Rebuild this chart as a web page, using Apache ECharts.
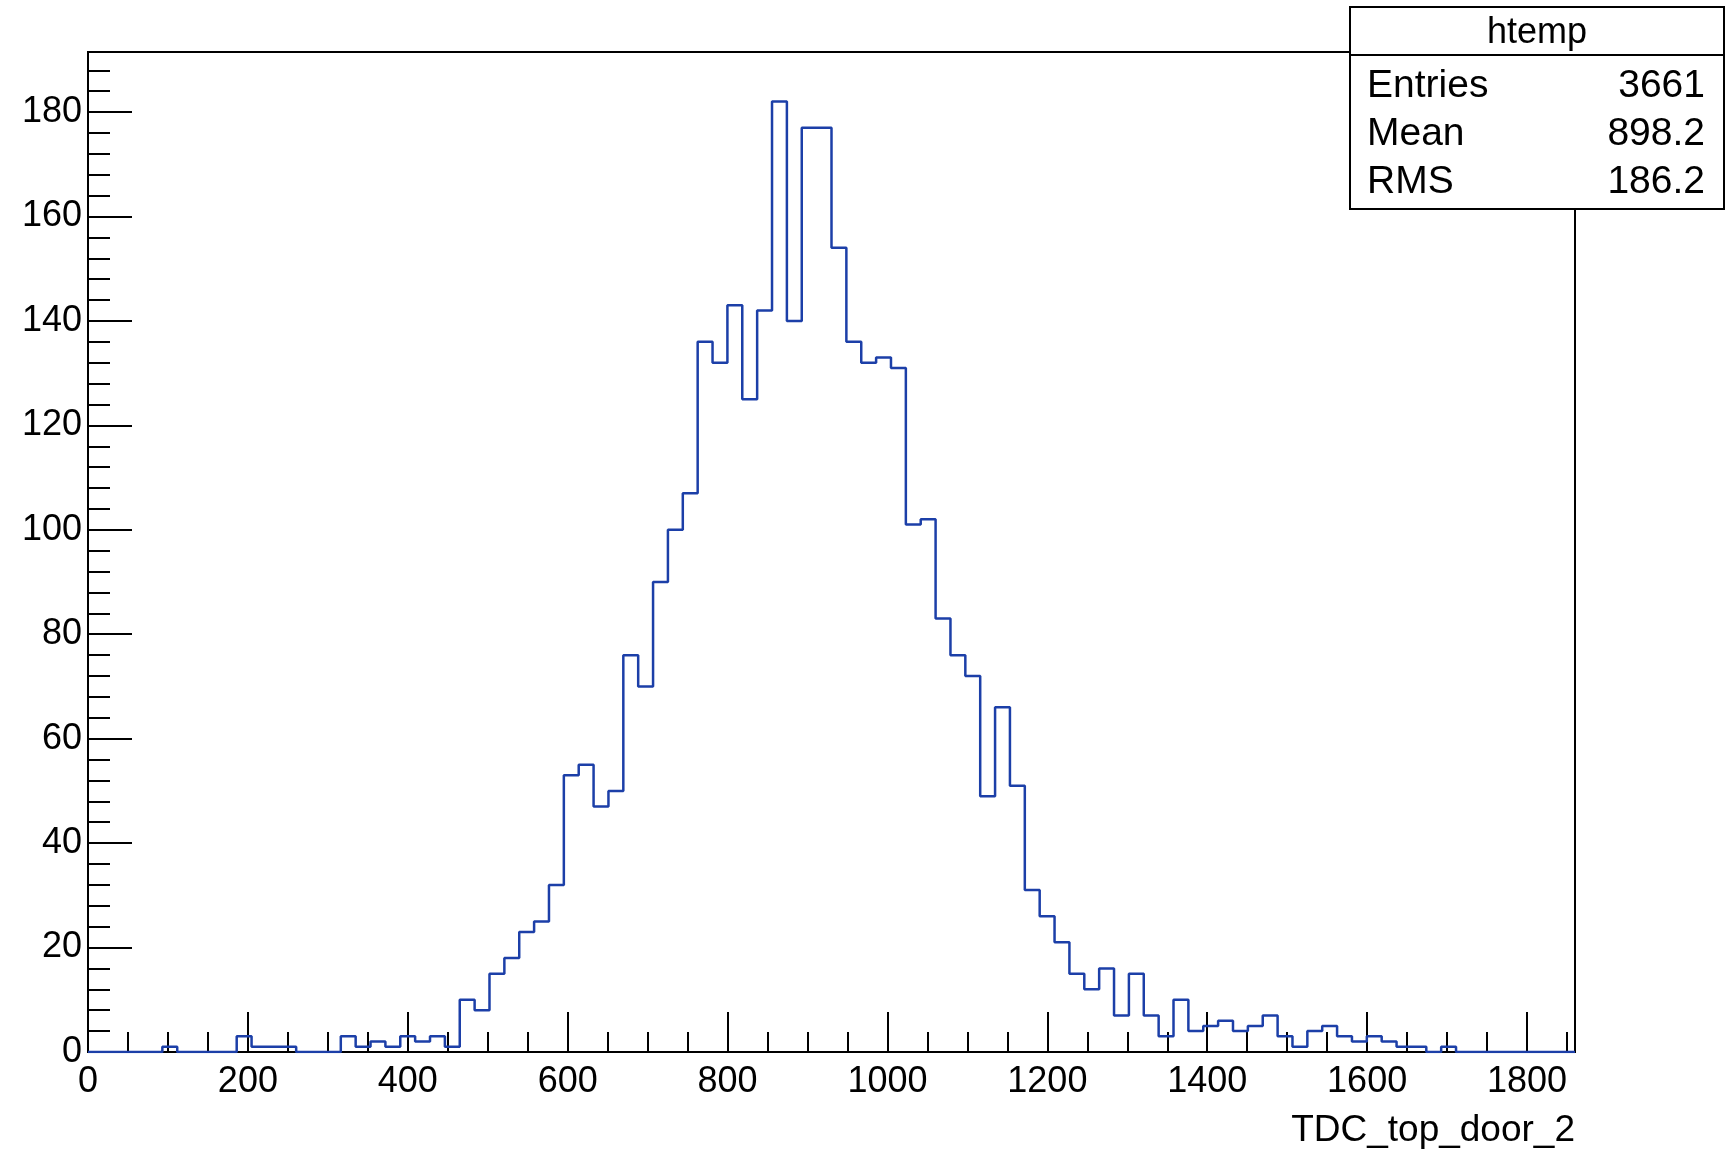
<!DOCTYPE html>
<html><head><meta charset="utf-8">
<script src="https://cdn.jsdelivr.net/npm/echarts@6/dist/echarts.min.js"></script>
<style>html,body{margin:0;padding:0;background:#fff}#c{width:1733px;height:1153px}</style>
</head><body><div id="c"></div>
<script>
const binWidth = 18.6;
const counts = [0,0,0,0,0,1,0,0,0,0, 3,1,1,1,0,0,0,3,1,2, 1,3,2,3,1,10,8,15,18,23, 25,32,53,55,47,50,76,70,90,100, 107,136,132,143,125,142,182,140,177,177, 154,136,132,133,131,101,102,83,76,72, 49,66,51,31,26,21,15,12,16,7, 15,7,3,10,4,5,6,4,5,7, 3,1,4,5,3,2,3,2,1,1, 0,1,0,0,0,0,0,0,0,0];
const statsLabels = ['Entries','Mean','RMS'];
const statsValues = ['3661','898.2','186.2'];
const xTitle = 'TDC_top_door_2';
const histName = 'htemp';

const pts = counts.map((v,i)=>[+(i*binWidth).toFixed(2), v]);
pts.push([+(counts.length*binWidth).toFixed(2), 0]);

const F = '"Liberation Sans", Arial, sans-serif';
const chart = echarts.init(document.getElementById('c'));
const L=88, R=1575, T=52, B=1052;
const g = [
  {type:'rect',shape:{x:1350,y:7,width:374,height:202},style:{fill:'#fff',stroke:'#000',lineWidth:2},z:100},
  {type:'line',shape:{x1:1350,y1:55,x2:1724,y2:55},style:{stroke:'#000',lineWidth:2},z:101},
  {type:'text',x:1537,y:33,style:{text:histName,font:'36px '+F,fill:'#000',textAlign:'center',textVerticalAlign:'middle'},z:102},
  {type:'text',x:R,y:1131,style:{text:xTitle,font:'37px '+F,fill:'#000',textAlign:'right',textVerticalAlign:'middle'},z:102}
];
statsLabels.forEach((s,i)=>{
  const y=86+i*48;
  g.push({type:'text',x:1367,y:y,style:{text:s,font:'39px '+F,fill:'#000',textAlign:'left',textVerticalAlign:'middle'},z:102});
  g.push({type:'text',x:1705,y:y,style:{text:statsValues[i],font:'39px '+F,fill:'#000',textAlign:'right',textVerticalAlign:'middle'},z:102});
});
chart.setOption({
  animation:false,
  grid:{left:L,right:1733-R,top:T,bottom:1153-B,show:true,borderColor:'#000',borderWidth:2},
  xAxis:{type:'value',min:0,max:1860,interval:200,
    axisLine:{lineStyle:{color:'#000',width:2}},
    axisTick:{inside:true,length:40,lineStyle:{color:'#000',width:2}},
    minorTick:{show:true,splitNumber:4,length:20,lineStyle:{color:'#000',width:2}},
    splitLine:{show:false},
    axisLabel:{color:'#000',fontSize:36,fontFamily:F,margin:12,showMaxLabel:false,formatter:v=>String(v)}},
  yAxis:{type:'value',min:0,max:191.5,interval:20,
    axisLine:{show:true,lineStyle:{color:'#000',width:2}},
    axisTick:{show:true,inside:true,length:44,lineStyle:{color:'#000',width:2}},
    minorTick:{show:true,splitNumber:5,length:22,lineStyle:{color:'#000',width:2}},
    splitLine:{show:false},
    axisLabel:{color:'#000',fontSize:36,fontFamily:F,margin:6,showMaxLabel:false,formatter:v=>String(v)}},
  series:[{type:'line',step:'end',data:pts,symbol:'none',
    lineStyle:{color:'#1c3fa8',width:2.5}}],
  graphic:g
});
</script></body></html>
